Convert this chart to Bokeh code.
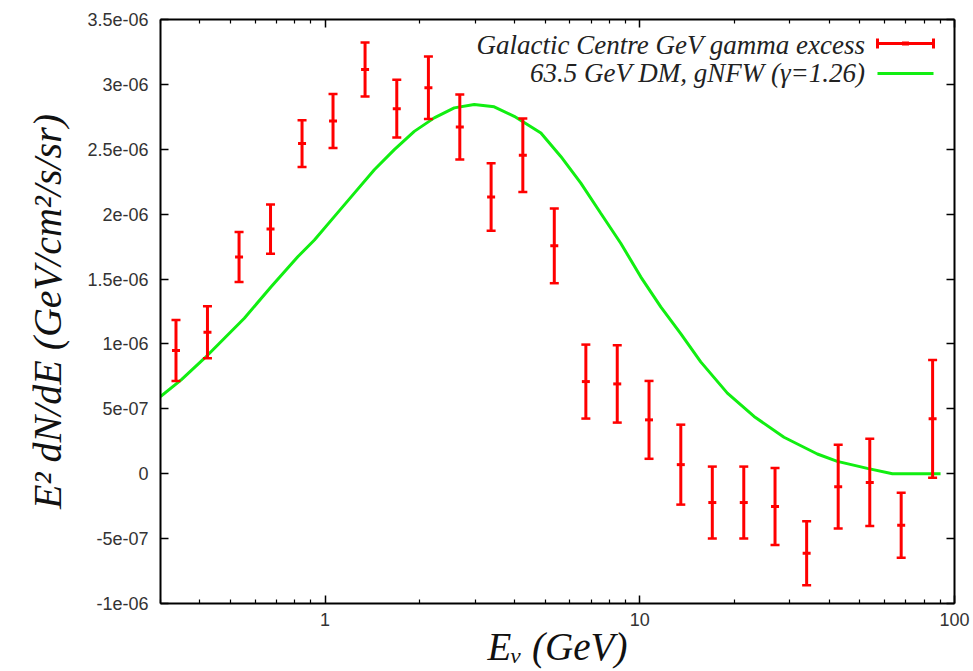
from bokeh.plotting import figure
from bokeh.models import FixedTicker, LogAxis, LinearAxis, Label, BoxAnnotation, Range1d
from bokeh.embed import file_html
from bokeh.resources import INLINE

# ---- data ----
energy = [0.336, 0.423, 0.533, 0.671, 0.845, 1.06, 1.34, 1.69, 2.13, 2.68, 3.37, 4.25,
          5.35, 6.74, 8.48, 10.7, 13.5, 17.0, 21.4, 26.9, 33.9, 42.7, 53.8, 67.7, 85.2]
flux = [0.95e-6, 1.09e-6, 1.67e-6, 1.885e-6, 2.544e-6, 2.718e-6, 3.115e-6, 2.813e-6,
        2.974e-6, 2.672e-6, 2.133e-6, 2.454e-6, 1.756e-6, 0.71e-6, 0.692e-6, 0.415e-6,
        0.07e-6, -0.222e-6, -0.222e-6, -0.253e-6, -0.613e-6, -0.10e-6, -0.067e-6,
        -0.397e-6, 0.423e-6]
flux_err = [0.235e-6, 0.20e-6, 0.192e-6, 0.19e-6, 0.18e-6, 0.208e-6, 0.208e-6, 0.223e-6,
            0.24e-6, 0.25e-6, 0.26e-6, 0.283e-6, 0.288e-6, 0.285e-6, 0.298e-6, 0.30e-6,
            0.308e-6, 0.277e-6, 0.277e-6, 0.297e-6, 0.246e-6, 0.323e-6, 0.336e-6,
            0.25e-6, 0.454e-6]

curve_e = [0.30, 0.349, 0.414, 0.515, 0.554, 0.674, 0.819, 0.925, 1.070, 1.239, 1.434,
           1.660, 1.921, 2.223, 2.573, 2.978, 3.447, 3.990, 4.851, 5.611, 6.497, 7.516,
           8.70, 10.07, 11.66, 13.49, 15.62, 18.98, 23.07, 28.72, 36.66, 42.43, 52.84,
           63.5, 90.3]
curve_f = [0.595e-6, 0.723e-6, 0.890e-6, 1.121e-6, 1.198e-6, 1.441e-6, 1.672e-6,
           1.801e-6, 1.981e-6, 2.162e-6, 2.342e-6, 2.497e-6, 2.638e-6, 2.742e-6,
           2.819e-6, 2.845e-6, 2.827e-6, 2.754e-6, 2.626e-6, 2.445e-6, 2.239e-6,
           2.007e-6, 1.776e-6, 1.517e-6, 1.286e-6, 1.080e-6, 0.862e-6, 0.621e-6,
           0.441e-6, 0.281e-6, 0.152e-6, 0.095e-6, 0.041e-6, 0.0, 0.0]

x_ticks = [1, 10, 100]
x_tick_labels = ["1", "10", "100"]
x_minor_ticks = [0.3, 0.4, 0.5, 0.6, 0.7, 0.8, 0.9, 2, 3, 4, 5, 6, 7, 8, 9,
                 20, 30, 40, 50, 60, 70, 80, 90]
y_ticks = [-1e-6, -5e-7, 0, 5e-7, 1e-6, 1.5e-6, 2e-6, 2.5e-6, 3e-6, 3.5e-6]
y_tick_labels = ["-1e-06", "-5e-07", "0", "5e-07", "1e-06", "1.5e-06", "2e-06",
                 "2.5e-06", "3e-06", "3.5e-06"]

legend_labels = ["Galactic Centre GeV gamma excess", "63.5 GeV DM, gNFW (\u03b3=1.26)"]

RED = "#ff0000"
GREEN = "#11ee11"
SERIF = "Liberation Serif"
SANS = "Liberation Sans"

p = figure(width=973, height=671, x_axis_type="log",
           x_range=Range1d(0.3, 100), y_range=Range1d(-1e-6, 3.5e-6),
           output_backend="svg", toolbar_location=None,
           min_border_left=160, min_border_right=19, min_border_top=19,
           min_border_bottom=68)
p.background_fill_color = "white"
p.border_fill_color = "white"
p.outline_line_color = None
p.xgrid.visible = False
p.ygrid.visible = False

xt = FixedTicker(ticks=x_ticks, minor_ticks=x_minor_ticks)
yt = FixedTicker(ticks=y_ticks, minor_ticks=[])


def style_axis(ax):
    ax.axis_line_color = "black"
    ax.axis_line_width = 2
    ax.major_tick_in = 8
    ax.major_tick_out = 0
    ax.minor_tick_in = 4
    ax.minor_tick_out = 0
    ax.major_tick_line_color = "black"
    ax.major_tick_line_width = 1.5
    ax.minor_tick_line_color = "black"
    ax.minor_tick_line_width = 1.2
    ax.major_label_text_font = SANS
    ax.major_label_text_font_size = "18px"
    ax.major_label_text_color = "#333333"


xa = p.xaxis[0]
xa.ticker = xt
xa.major_label_overrides = {t: s for t, s in zip(x_ticks, x_tick_labels)}
style_axis(xa)
xa.major_label_standoff = 9
xa.axis_label = "E\u1d65 (GeV)"
xa.axis_label_text_font = SERIF
xa.axis_label_text_font_style = "italic"
xa.axis_label_text_font_size = "39px"
xa.axis_label_text_color = "#111111"
xa.axis_label_standoff = -4

ya = p.yaxis[0]
ya.ticker = yt
ya.major_label_overrides = {t: s for t, s in zip(y_ticks, y_tick_labels)}
style_axis(ya)
ya.major_label_standoff = 12
ya.axis_label = "E\u00b2 dN/dE (GeV/cm\u00b2/s/sr)"
ya.axis_label_text_font = SERIF
ya.axis_label_text_font_style = "italic"
ya.axis_label_text_font_size = "40px"
ya.axis_label_text_color = "#111111"
ya.axis_label_standoff = 14

top = LogAxis(ticker=xt)
style_axis(top)
top.major_label_overrides = {t: "" for t in x_ticks}
top.major_label_standoff = 0
p.add_layout(top, "above")
right = LinearAxis(ticker=yt)
style_axis(right)
right.major_label_overrides = {t: "" for t in y_ticks}
right.major_label_standoff = 0
p.add_layout(right, "right")

# model curve
p.line(curve_e, curve_f, line_color=GREEN, line_width=3)

# data with error bars
lo = [f - e for f, e in zip(flux, flux_err)]
hi = [f + e for f, e in zip(flux, flux_err)]
p.segment(x0=energy, y0=lo, x1=energy, y1=hi, line_color=RED, line_width=3)
p.scatter(energy, lo, marker="dash", size=9, line_color=RED, line_width=2.5)
p.scatter(energy, hi, marker="dash", size=9, line_color=RED, line_width=2.5)
p.scatter(energy, flux, marker="dash", size=8, line_color=RED, line_width=3)

# legend (screen units relative to the frame)
for i, txt in enumerate(legend_labels):
    p.add_layout(Label(x=705, y=559 - 28 * i, x_units="screen", y_units="screen",
                       text=txt, text_align="right", text_baseline="middle",
                       text_font=SERIF, text_font_style="italic",
                       text_font_size="27px", text_color="#222222"))


def box(l, r, b, t, color):
    p.add_layout(BoxAnnotation(left=l, right=r, bottom=b, top=t,
                               left_units="screen", right_units="screen",
                               bottom_units="screen", top_units="screen",
                               fill_color=color, fill_alpha=1, line_color=None))


box(717, 773, 558.5, 561.5, RED)
box(715.5, 718.5, 555, 565, RED)
box(771.5, 774.5, 555, 565, RED)
box(741.5, 748.5, 558, 562, RED)
box(717, 773, 528.5, 531.5, GREEN)

open("out.html", "w").write(file_html(p, INLINE))
